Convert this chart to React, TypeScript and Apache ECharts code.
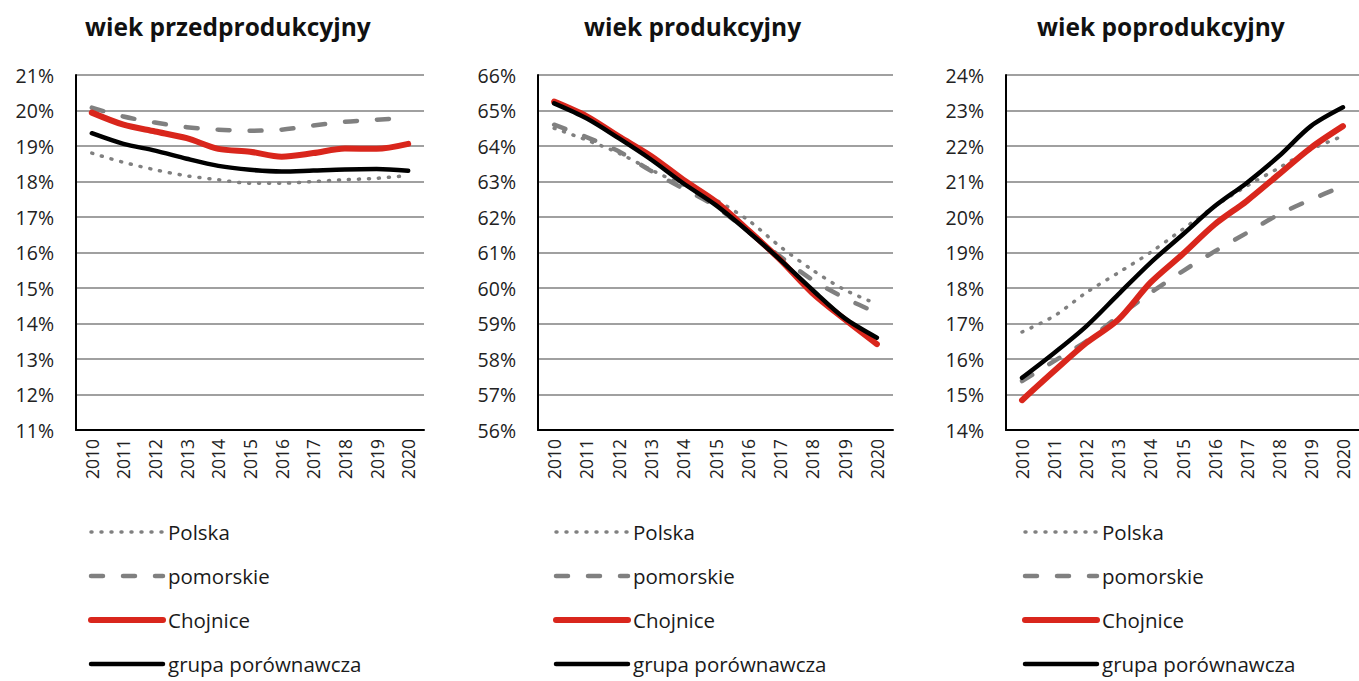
import React, { useEffect, useRef } from "react";
import * as echarts from "echarts";

const years = ["2010", "2011", "2012", "2013", "2014", "2015", "2016", "2017", "2018", "2019", "2020"];
const seriesNames = ["Polska", "pomorskie", "Chojnice", "grupa porównawcza"];
const chartTitles = ["wiek przedprodukcyjny", "wiek produkcyjny", "wiek poprodukcyjny"];

// wiek przedprodukcyjny
const pre_polska = [18.8, 18.54, 18.33, 18.16, 18.05, 17.95, 17.95, 18.0, 18.05, 18.09, 18.17];
const pre_pomorskie = [20.08, 19.83, 19.66, 19.53, 19.46, 19.43, 19.46, 19.58, 19.68, 19.74, 19.8];
const pre_chojnice = [19.94, 19.6, 19.41, 19.22, 18.92, 18.84, 18.7, 18.8, 18.93, 18.92, 19.06];
const pre_grupa = [19.36, 19.06, 18.87, 18.64, 18.44, 18.33, 18.28, 18.31, 18.34, 18.35, 18.3];

// wiek produkcyjny
const prod_polska = [64.5, 64.17, 63.8, 63.33, 62.9, 62.48, 61.92, 61.17, 60.51, 59.95, 59.55];
const prod_pomorskie = [64.6, 64.25, 63.85, 63.3, 62.8, 62.3, 61.6, 60.89, 60.23, 59.72, 59.3];
const prod_chojnice = [65.25, 64.84, 64.27, 63.72, 63.05, 62.44, 61.64, 60.8, 59.86, 59.12, 58.42];
const prod_grupa = [65.2, 64.78, 64.22, 63.62, 62.95, 62.34, 61.6, 60.8, 59.95, 59.15, 58.6];

// wiek poprodukcyjny
const post_polska = [16.76, 17.21, 17.87, 18.43, 19.0, 19.65, 20.3, 20.87, 21.38, 21.9, 22.28];
const post_pomorskie = [15.38, 15.94, 16.5, 17.2, 17.86, 18.47, 19.03, 19.55, 20.07, 20.49, 20.87];
const post_chojnice = [14.84, 15.66, 16.45, 17.11, 18.15, 18.95, 19.79, 20.45, 21.2, 21.95, 22.56];
const post_grupa = [15.47, 16.17, 16.92, 17.82, 18.71, 19.5, 20.3, 20.96, 21.71, 22.56, 23.09];

const yRanges = [
  [11, 21],
  [56, 66],
  [14, 24],
];

const dataSets = [
  [pre_polska, pre_pomorskie, pre_chojnice, pre_grupa],
  [prod_polska, prod_pomorskie, prod_chojnice, prod_grupa],
  [post_polska, post_pomorskie, post_chojnice, post_grupa],
];

const FONT = "'Open Sans', 'Noto Sans', sans-serif";

export default function App() {
  const ref = useRef<HTMLDivElement>(null);

  useEffect(() => {
    document.body.style.margin = "0";
    if (!ref.current) return;
    const chart = echarts.init(ref.current, null, { renderer: "svg" });

    const grids = [
      { left: 76, top: 75, width: 348, height: 355 },
      { left: 538, top: 75, width: 355, height: 355 },
      { left: 1006, top: 75, width: 357, height: 355 },
    ];
    const titleLefts = [80, 579, 1032];
    const legendLefts = [88, 553, 1022];

    const styles = [
      { color: "#808080", width: 3.5, type: [1, 9], cap: "round" },
      { color: "#808080", width: 4.5, type: [12, 20], cap: "round" },
      { color: "#d9261c", width: 6, type: "solid", cap: "round" },
      { color: "#000000", width: 4.5, type: "solid", cap: "round" },
    ];

    const series: any[] = [];
    dataSets.forEach((set, gi) => {
      set.forEach((vals, si) => {
        series.push({
          type: "line",
          name: seriesNames[si],
          xAxisIndex: gi,
          yAxisIndex: gi,
          data: vals,
          smooth: 0.3,
          symbol: "circle",
          showSymbol: false,
          color: styles[si].color,
          lineStyle: {
            color: styles[si].color,
            width: styles[si].width,
            type: styles[si].type as any,
            cap: styles[si].cap as any,
            join: "round",
          },
          z: 2 + si,
        });
      });
    });

    chart.setOption({
      animation: false,
      textStyle: { fontFamily: FONT },
      title: chartTitles.map((t, i) => ({
        text: t,
        left: titleLefts[i],
        top: 9,
        textStyle: { fontFamily: FONT, fontSize: 24.5, fontWeight: "bold", color: "#111" },
      })),
      grid: grids,
      xAxis: grids.map((_, i) => ({
        type: "category",
        gridIndex: i,
        data: years,
        boundaryGap: true,
        axisLine: { show: true, lineStyle: { color: "#000", width: 2 } },
        axisTick: { show: false },
        axisLabel: { rotate: 90, fontSize: 17.5, color: "#222", margin: 9, fontFamily: FONT },
        splitLine: { show: false },
      })),
      yAxis: grids.map((_, i) => ({
        type: "value",
        gridIndex: i,
        min: yRanges[i][0],
        max: yRanges[i][1],
        interval: 1,
        axisLine: { show: true, lineStyle: { color: "#000", width: 2 } },
        axisTick: { show: false },
        axisLabel: { formatter: "{value}%", fontSize: 19.5, color: "#222", margin: 22, fontFamily: FONT },
        splitLine: { show: true, lineStyle: { color: "#a0a0a0", width: 2 } },
      })),
      legend: legendLefts.map((l) => ({
        orient: "vertical",
        left: l,
        top: 521,
        height: 160,
        padding: 0,
        itemWidth: 72,
        itemHeight: 22,
        itemGap: 22,
        selectedMode: false,
        data: seriesNames,
        itemStyle: { opacity: 0 },
        lineStyle: { width: "inherit" },
        textStyle: { fontSize: 20.5, color: "#1a1a1a", lineHeight: 22, fontFamily: FONT },
      })),
      series,
    });

    return () => chart.dispose();
  }, []);

  return <div ref={ref} style={{ width: 1359, height: 681 }} />;
}
